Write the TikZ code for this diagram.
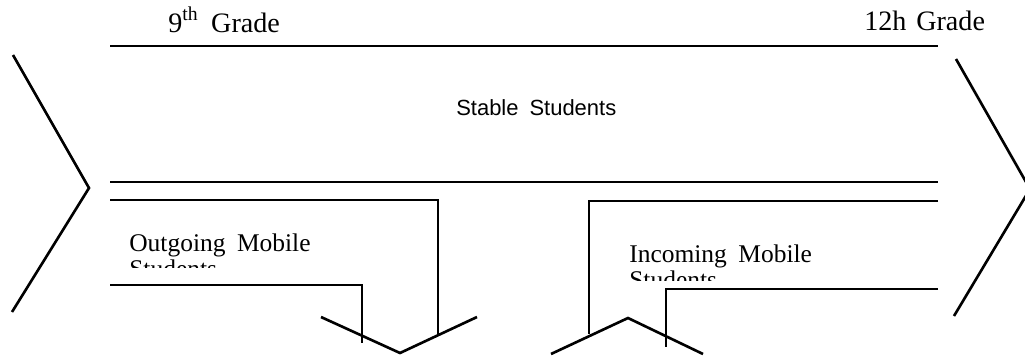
\documentclass[tikz,border=0pt]{standalone}
\usepackage{fontspec}
\setmainfont{Liberation Serif}
\newfontfamily\stablefont{Liberation Sans}
\usetikzlibrary{calc}

\begin{document}
\begin{tikzpicture}[x=0.02cm, y=-0.02cm, line width=1.5pt,
    label/.style={inner sep=0pt, anchor=base west, font=\fontsize{14.5}{17}\selectfont},
    grade/.style={label, font=\fontsize{16}{19}\selectfont}]
    \useasboundingbox (0,0) rectangle (1025,356);
    \clip (0,0) rectangle (1025,356);

    % 1. Corners of the bands
    \coordinate (TL) at (110,46);
    \coordinate (TR) at (938,46);
    \coordinate (ML) at (110,182);
    \coordinate (MR) at (938,182);

    % Outgoing band (leaves downwards)
    \coordinate (O1) at (110,200);
    \coordinate (O2) at (438,200);
    \coordinate (O3) at (438,334);
    \coordinate (O4) at (110,285);
    \coordinate (O5) at (362,285);
    \coordinate (O6) at (362,343);

    % Incoming band (joins from below)
    \coordinate (I1) at (938,201);
    \coordinate (I2) at (589,201);
    \coordinate (I3) at (589,334);
    \coordinate (I4) at (938,289);
    \coordinate (I5) at (666,289);
    \coordinate (I6) at (666,347);

    % 2. Stable band
    \draw (TL) -- (TR);
    \draw (ML) -- (MR);

    % 3. Outgoing and incoming bands
    \draw (O1) -- (O2) -- (O3);
    \draw (O4) -- (O5) -- (O6);
    \draw (I1) -- (I2) -- (I3);
    \draw (I4) -- (I5) -- (I6);

    % 4. Chevrons
    \draw (13,55) -- (89,188) -- (12,312);      % entry, left
    \draw (956,59) -- (1030,189) -- (954,316);  % exit, right
    \draw (321,317) -- (400,353) -- (477,317);  % outgoing, down
    \draw (551,354) -- (628,318) -- (703,354);  % incoming, up

    % 5. Labels
    \node[grade] (nine) at (167,32) {9\textsuperscript{th}\hspace{0.45em}Grade};
    \node[grade] (twelve) at (863,30) {12h\hspace{0.35em}Grade};
    \node[label, font=\stablefont\fontsize{12.5}{15}\selectfont] (stable) at (455,115) {Stable\hspace{0.5em}Students};
    \node[label] (outgoing) at (128,251) {Outgoing\hspace{0.45em}Mobile};
    \node[label] (incoming) at (628,262) {Incoming\hspace{0.45em}Mobile};

    % second lines, cut off as in the text boxes
    \begin{scope}
        \clip (100,255) rectangle (340,267);
        \node[label] (outgoingB) at (128,277) {Students};
    \end{scope}
    \begin{scope}
        \clip (600,266) rectangle (840,280);
        \node[label] (incomingB) at (628,288) {Students};
    \end{scope}

\end{tikzpicture}
\end{document}
